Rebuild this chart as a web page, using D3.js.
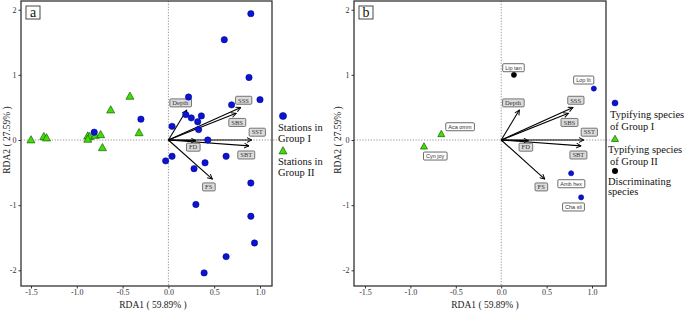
<!DOCTYPE html>
<html>
<head>
<meta charset="utf-8">
<script src="https://cdn.jsdelivr.net/npm/d3@7"></script>
<style>
  html, body { margin: 0; padding: 0; background: #fff; }
  svg { display: block; font-family: "Liberation Serif", "Times New Roman", serif; }
</style>
</head>
<body>
<div id="chart"></div>
<script>
// RDA1 / RDA2 coordinates
const xTicks = [-1.5, -1.0, -0.5, 0.0, 0.5, 1.0];
const yTicks = [-2, -1, 0, 1, 2];

// panel a: stations
const stationsGroupI = [
  [0.90, 1.94], [0.61, 1.54], [0.88, 0.96], [1.00, 0.62], [0.69, 0.54],
  [0.22, 0.66], [-0.30, 0.32], [0.19, 0.39], [0.25, 0.34], [0.36, 0.37],
  [0.32, 0.28], [0.33, 0.16], [0.04, 0.21], [0.43, 0.00], [-0.81, 0.12],
  [0.04, -0.25], [-0.03, -0.32], [0.63, -0.25], [0.40, -0.35], [0.28, -0.44],
  [0.90, -0.66], [0.30, -0.99], [0.90, -1.17], [0.94, -1.58], [0.63, -1.79],
  [0.39, -2.04]
];
const stationsGroupII = [
  [-1.50, 0.00], [-1.36, 0.05], [-1.33, 0.03], [-0.88, 0.06], [-0.86, 0.05],
  [-0.88, 0.01], [-0.80, 0.07], [-0.74, 0.08], [-0.63, 0.46], [-0.42, 0.67],
  [-0.32, 0.11], [-0.72, -0.12]
];

// environmental vectors: name, tip x/y, label x/y
const envNames = ['Depth', 'SSS', 'SBS', 'SST', 'SBT', 'FD', 'FS'];
const envTips = [[0.20, 0.46], [0.79, 0.50], [0.74, 0.41], [0.91, 0.00], [0.88, -0.09], [0.30, -0.01], [0.48, -0.60]];
const envLabels = [[0.13, 0.57], [0.82, 0.61], [0.75, 0.27], [0.97, 0.12], [0.85, -0.23], [0.27, -0.11], [0.44, -0.72]];

// panel b: species
const speciesNames = ['Lip tan', 'Aca omm', 'Cyn joy', 'Lop lit', 'Amb hex', 'Cha sli'];
const speciesGroup = ['disc', 'II', 'II', 'I', 'I', 'I'];
const speciesPos = [[0.14, 1.00], [-0.66, 0.09], [-0.85, -0.10], [1.02, 0.79], [0.77, -0.51], [0.88, -0.88]];
const speciesLabels = [[0.135, 1.11], [-0.455, 0.204], [-0.727, -0.246], [0.906, 0.921], [0.771, -0.671], [0.796, -1.028]];

const W = 685, H = 311;
const SERIF = '"Liberation Serif", "Times New Roman", serif';
const BLUE = '#0a14d2', GREEN = '#3ede08', BLACK = '#000';

const svg = d3.select('#chart').append('svg')
  .attr('width', W).attr('height', H)
  .attr('font-family', SERIF);

svg.append('defs').append('marker')
  .attr('id', 'arrow')
  .attr('viewBox', '0 0 10 10')
  .attr('refX', 9).attr('refY', 5)
  .attr('markerWidth', 6).attr('markerHeight', 6)
  .attr('markerUnits', 'userSpaceOnUse')
  .attr('orient', 'auto')
  .append('path')
  .attr('d', 'M1,1 L9,5 L1,9')
  .attr('fill', 'none')
  .attr('stroke', '#000')
  .attr('stroke-width', 1.6);

function triangle(sel, cx, cy, s, fill) {
  const h = s * 0.9;
  sel.append('path')
    .attr('d', `M${cx},${cy - h * 0.6} L${cx + s / 2},${cy + h * 0.4} L${cx - s / 2},${cy + h * 0.4} Z`)
    .attr('fill', fill)
    .attr('stroke', '#1b5e00')
    .attr('stroke-width', 0.7);
}

function labelBox(g, text, cx, cy, opts) {
  const t = g.append('text')
    .attr('x', cx).attr('y', cy)
    .attr('text-anchor', 'middle')
    .attr('dy', '0.35em')
    .attr('font-size', opts.fontSize)
    .attr('font-family', opts.family)
    .attr('fill', opts.color)
    .text(text);
  const bb = t.node().getBBox();
  g.insert('rect', () => t.node())
    .attr('x', bb.x - opts.padX)
    .attr('y', cy - opts.h / 2)
    .attr('width', bb.width + opts.padX * 2)
    .attr('height', opts.h)
    .attr('rx', 1)
    .attr('fill', opts.fill)
    .attr('stroke', opts.stroke)
    .attr('stroke-width', 0.8);
}

function drawPanel(p) {
  const x = d3.scaleLinear().domain(p.xDomain).range([p.left, p.right]);
  const y = d3.scaleLinear().domain([-2.241, 2.134]).range([p.bottom, p.top]);
  const g = svg.append('g').attr('font-family', SERIF);

  // zero reference lines
  g.append('line')
    .attr('x1', x(0)).attr('x2', x(0))
    .attr('y1', p.top).attr('y2', p.bottom)
    .attr('stroke', '#777').attr('stroke-width', 0.8)
    .attr('stroke-dasharray', '1.2,1.6');
  g.append('line')
    .attr('x1', p.left).attr('x2', p.right + 8)
    .attr('y1', y(0)).attr('y2', y(0))
    .attr('stroke', '#777').attr('stroke-width', 0.8)
    .attr('stroke-dasharray', '1.2,1.6');

  // axes
  const xAxis = g.append('g')
    .attr('transform', `translate(0,${p.bottom})`)
    .call(d3.axisBottom(x).tickValues(xTicks).tickSize(2.5).tickPadding(1)
      .tickFormat(d => d.toFixed(1)));
  const yAxis = g.append('g')
    .attr('transform', `translate(${p.left},0)`)
    .call(d3.axisLeft(y).tickValues(yTicks).tickSize(2.5).tickPadding(2)
      .tickFormat(d => String(d)));
  [xAxis, yAxis].forEach(a => {
    a.attr('font-family', SERIF);
    a.select('.domain').remove();
    a.selectAll('line').attr('stroke', '#333');
    a.selectAll('text')
      .attr('font-family', SERIF)
      .attr('font-size', 8)
      .attr('fill', '#333');
  });

  // frame
  g.append('rect')
    .attr('x', p.left).attr('y', p.top)
    .attr('width', p.right - p.left).attr('height', p.bottom - p.top)
    .attr('fill', 'none')
    .attr('stroke', '#333').attr('stroke-width', 1.3);

  // axis titles
  g.append('text')
    .attr('x', p.xTitleX).attr('y', 308)
    .attr('text-anchor', 'middle')
    .attr('font-size', 9.5).attr('fill', '#222')
    .text('RDA1 ( 59.89% )');
  g.append('text')
    .attr('transform', `translate(${p.yTitleX},140) rotate(-90)`)
    .attr('text-anchor', 'middle')
    .attr('dy', '0.35em')
    .attr('font-size', 9.5).attr('fill', '#222')
    .text('RDA2 ( 27.59% )');

  // panel letter
  g.append('rect')
    .attr('x', p.left + 5).attr('y', 6)
    .attr('width', 14).attr('height', 13)
    .attr('fill', '#fff').attr('stroke', '#333').attr('stroke-width', 0.9);
  g.append('text')
    .attr('x', p.left + 12).attr('y', 16.5)
    .attr('text-anchor', 'middle')
    .attr('font-size', 14).attr('fill', '#111')
    .text(p.letter);

  return { g, x, y };
}

function drawVectors(g, x, y) {
  envTips.forEach(d => {
    g.append('line')
      .attr('x1', x(0)).attr('y1', y(0))
      .attr('x2', x(d[0])).attr('y2', y(d[1]))
      .attr('stroke', '#000').attr('stroke-width', 1.1)
      .attr('marker-end', 'url(#arrow)');
  });
  envNames.forEach((name, i) => {
    labelBox(g, name, x(envLabels[i][0]), y(envLabels[i][1]), {
      fontSize: 6.5, family: SERIF, color: '#333',
      fill: '#dcdcdc', stroke: '#555', padX: 2.5, h: 8
    });
  });
}

// ---------- panel a ----------
const a = drawPanel({
  left: 21, right: 272, top: 1, bottom: 286,
  xDomain: [-1.609, 1.131], letter: 'a', xTitleX: 153, yTitleX: 7
});
stationsGroupII.forEach(d => triangle(a.g, a.x(d[0]), a.y(d[1]), 8, GREEN));
drawVectors(a.g, a.x, a.y);
stationsGroupI.forEach(d => {
  a.g.append('circle')
    .attr('cx', a.x(d[0])).attr('cy', a.y(d[1])).attr('r', 3.2)
    .attr('fill', BLUE).attr('stroke', '#000080').attr('stroke-width', 0.5);
});

// legend a
const legA = svg.append('g').attr('font-family', SERIF).attr('font-size', 10.5).attr('fill', '#111');
legA.append('circle').attr('cx', 283).attr('cy', 116).attr('r', 3.6)
  .attr('fill', BLUE).attr('stroke', '#000080').attr('stroke-width', 0.5);
legA.append('text').attr('x', 278).attr('y', 131).text('Stations in');
legA.append('text').attr('x', 278).attr('y', 142).text('Group I');
triangle(legA, 283, 151, 8, GREEN);
legA.append('text').attr('x', 278).attr('y', 165).text('Stations in');
legA.append('text').attr('x', 278).attr('y', 176).text('Group II');

// ---------- panel b ----------
const b = drawPanel({
  left: 354, right: 606, top: 1, bottom: 286,
  xDomain: [-1.621, 1.154], letter: 'b', xTitleX: 485, yTitleX: 338
});
drawVectors(b.g, b.x, b.y);
speciesNames.forEach((name, i) => {
  const px = b.x(speciesPos[i][0]), py = b.y(speciesPos[i][1]);
  if (speciesGroup[i] === 'II') {
    triangle(b.g, px, py, 7, GREEN);
  } else {
    b.g.append('circle').attr('cx', px).attr('cy', py).attr('r', 2.6)
      .attr('fill', speciesGroup[i] === 'I' ? BLUE : BLACK)
      .attr('stroke', speciesGroup[i] === 'I' ? '#000080' : '#000')
      .attr('stroke-width', 0.5);
  }
  labelBox(b.g, name, b.x(speciesLabels[i][0]), b.y(speciesLabels[i][1]), {
    fontSize: 5.5, family: '"Liberation Sans", Arial, sans-serif', color: '#333',
    fill: '#fff', stroke: '#444', padX: 2.5, h: 8
  });
});

// legend b
const legB = svg.append('g').attr('font-family', SERIF).attr('font-size', 10.5).attr('fill', '#111');
legB.append('circle').attr('cx', 615).attr('cy', 103).attr('r', 3)
  .attr('fill', BLUE).attr('stroke', '#000080').attr('stroke-width', 0.5);
legB.append('text').attr('x', 610).attr('y', 118).text('Typifying species');
legB.append('text').attr('x', 610).attr('y', 130).text('of Group I');
triangle(legB, 615, 139, 7, GREEN);
legB.append('text').attr('x', 608).attr('y', 153).text('Typifying species');
legB.append('text').attr('x', 610).attr('y', 165).text('of Group II');
legB.append('circle').attr('cx', 615).attr('cy', 171).attr('r', 3)
  .attr('fill', BLACK);
legB.append('text').attr('x', 608).attr('y', 184.5).text('Discriminating');
legB.append('text').attr('x', 608).attr('y', 194.5).text('species');
</script>
</body>
</html>
